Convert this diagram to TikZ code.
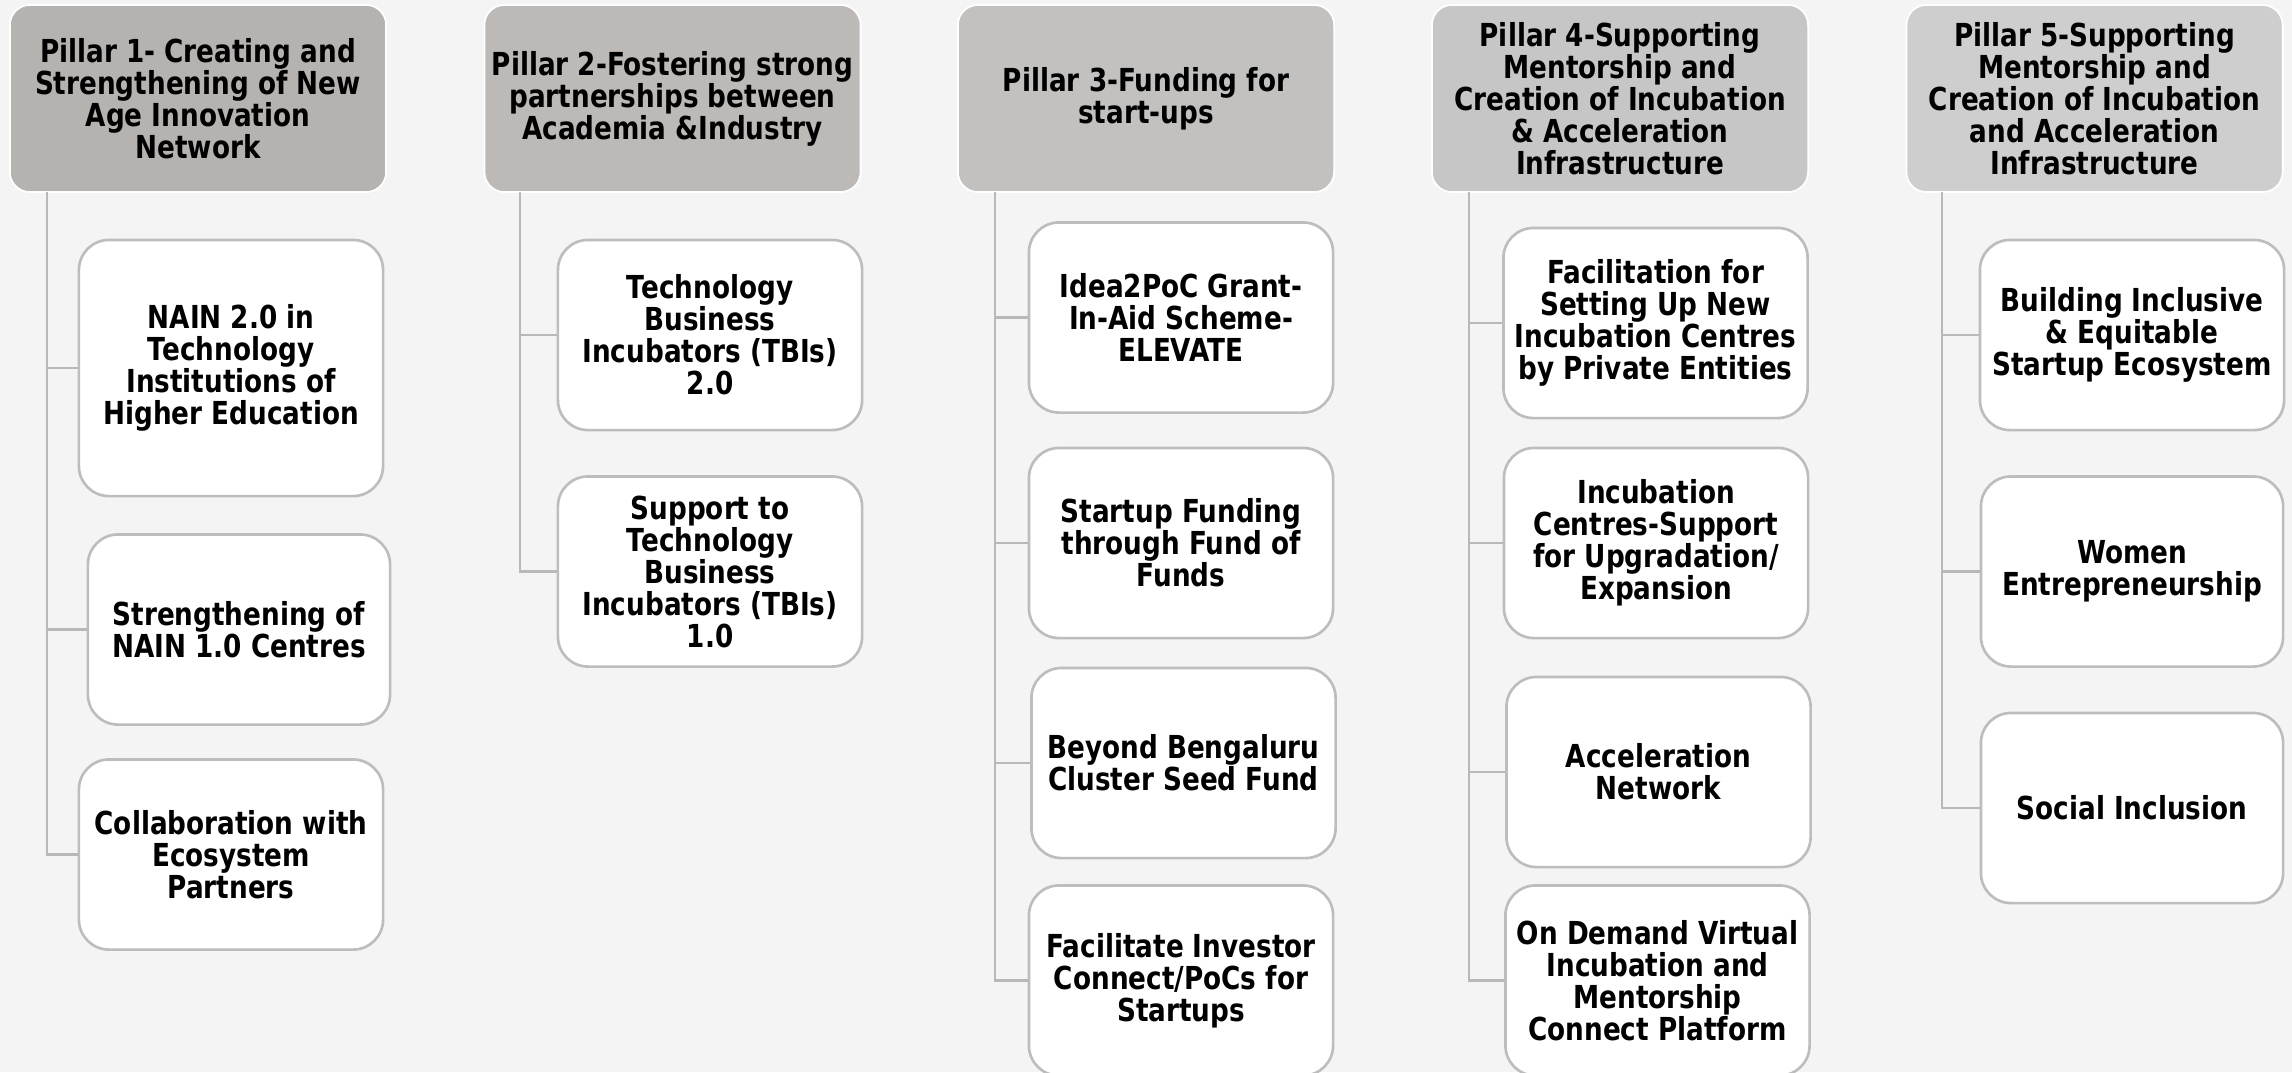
\documentclass[tikz,border=0pt]{standalone}
\usepackage{fontspec}
\setmainfont{DejaVu Sans}[FakeStretch=0.83]
\definecolor{bg}{HTML}{F4F4F4}
\definecolor{bordergray}{HTML}{BDBDBD}
\definecolor{linegray}{HTML}{B8B8B8}
\definecolor{hA}{HTML}{B5B2B0}
\definecolor{hB}{HTML}{BCB9B7}
\definecolor{hC}{HTML}{C2C1BF}
\definecolor{hD}{HTML}{C6C6C6}
\definecolor{hE}{HTML}{CECECE}
\begin{document}
\begin{tikzpicture}[x=0.01cm,y=-0.01cm,
  every node/.style={font=\bfseries\fontsize{9}{9.1}\selectfont},
  hdr/.style={draw=white, line width=0.5pt, rounded corners=0.2cm, minimum width=3.76cm, minimum height=1.87cm, align=center, inner sep=0pt},
  child/.style={draw=bordergray, line width=0.75pt, fill=white, rounded corners=0.3cm, minimum width=3.04cm, minimum height=1.9cm, align=center, inner sep=0pt},
  conn/.style={draw=linegray, line width=0.8pt}]
\fill[bg] (0,0) rectangle (2292,1072);
\useasboundingbox (0,0) rectangle (2292,1072);
% headers
\node[hdr, fill=hA] (h1) at (198,98.5) {Pillar 1- Creating and\\Strengthening of New\\Age Innovation\\Network};
\node[hdr, fill=hB] (h2) at (672.5,98.5) {Pillar 2-Fostering strong\\partnerships between\\Academia \&Industry};
\node[hdr, fill=hC] (h3) at (1146,98.5) {Pillar 3-Funding for\\start-ups};
\node[hdr, fill=hD] (h4) at (1620,98.5) {Pillar 4-Supporting\\Mentorship and\\Creation of Incubation\\\& Acceleration\\Infrastructure};
\node[hdr, fill=hE] (h5) at (2094.5,98.5) {Pillar 5-Supporting\\Mentorship and\\Creation of Incubation\\and Acceleration\\Infrastructure};
% spine tops
\coordinate (v1) at (47,192);
\coordinate (v2) at (520,192);
\coordinate (v3) at (995,192);
\coordinate (v4) at (1469,192);
\coordinate (v5) at (1942,192);
% children
\node[child, minimum height=2.56cm] (c1a) at (231,368) {NAIN 2.0 in\\Technology\\Institutions of\\Higher Education};
\node[child, minimum width=3.02cm] (c1b) at (239,629.5) {Strengthening of\\NAIN 1.0 Centres};
\node[child] (c1c) at (231,854.5) {Collaboration with\\Ecosystem\\Partners};
\node[child] (c2a) at (710,335) {Technology\\Business\\Incubators (TBIs)\\2.0};
\node[child] (c2b) at (710,571.5) {Support to\\Technology\\Business\\Incubators (TBIs)\\1.0};
\node[child] (c3a) at (1181,317.5) {Idea2PoC Grant-\\In-Aid Scheme-\\ELEVATE};
\node[child] (c3b) at (1181,543) {Startup Funding\\through Fund of\\Funds};
\node[child] (c3c) at (1183.5,763) {Beyond Bengaluru\\Cluster Seed Fund};
\node[child] (c3d) at (1181,980.5) {Facilitate Investor\\Connect/PoCs for\\Startups};
\node[child] (c4a) at (1655.5,323) {Facilitation for\\Setting Up New\\Incubation Centres\\by Private Entities};
\node[child] (c4b) at (1656,543) {Incubation\\Centres-Support\\for Upgradation/\\Expansion};
\node[child] (c4c) at (1658.5,772) {Acceleration\\Network};
\node[child] (c4d) at (1657.5,980.5) {On Demand Virtual\\Incubation and\\Mentorship\\Connect Platform};
\node[child] (c5a) at (2132,335) {Building Inclusive\\\& Equitable\\Startup Ecosystem};
\node[child, minimum width=3.02cm] (c5b) at (2132,571.5) {Women\\Entrepreneurship};
\node[child, minimum width=3.02cm] (c5c) at (2132,808) {Social Inclusion};
% connectors
\foreach \v/\c in {v1/c1a,v1/c1b,v1/c1c,v2/c2a,v2/c2b,v3/c3a,v3/c3b,v3/c3c,v3/c3d,v4/c4a,v4/c4b,v4/c4c,v4/c4d,v5/c5a,v5/c5b,v5/c5c}
  \draw[conn] (\v) |- (\c.west);
\end{tikzpicture}
\end{document}
